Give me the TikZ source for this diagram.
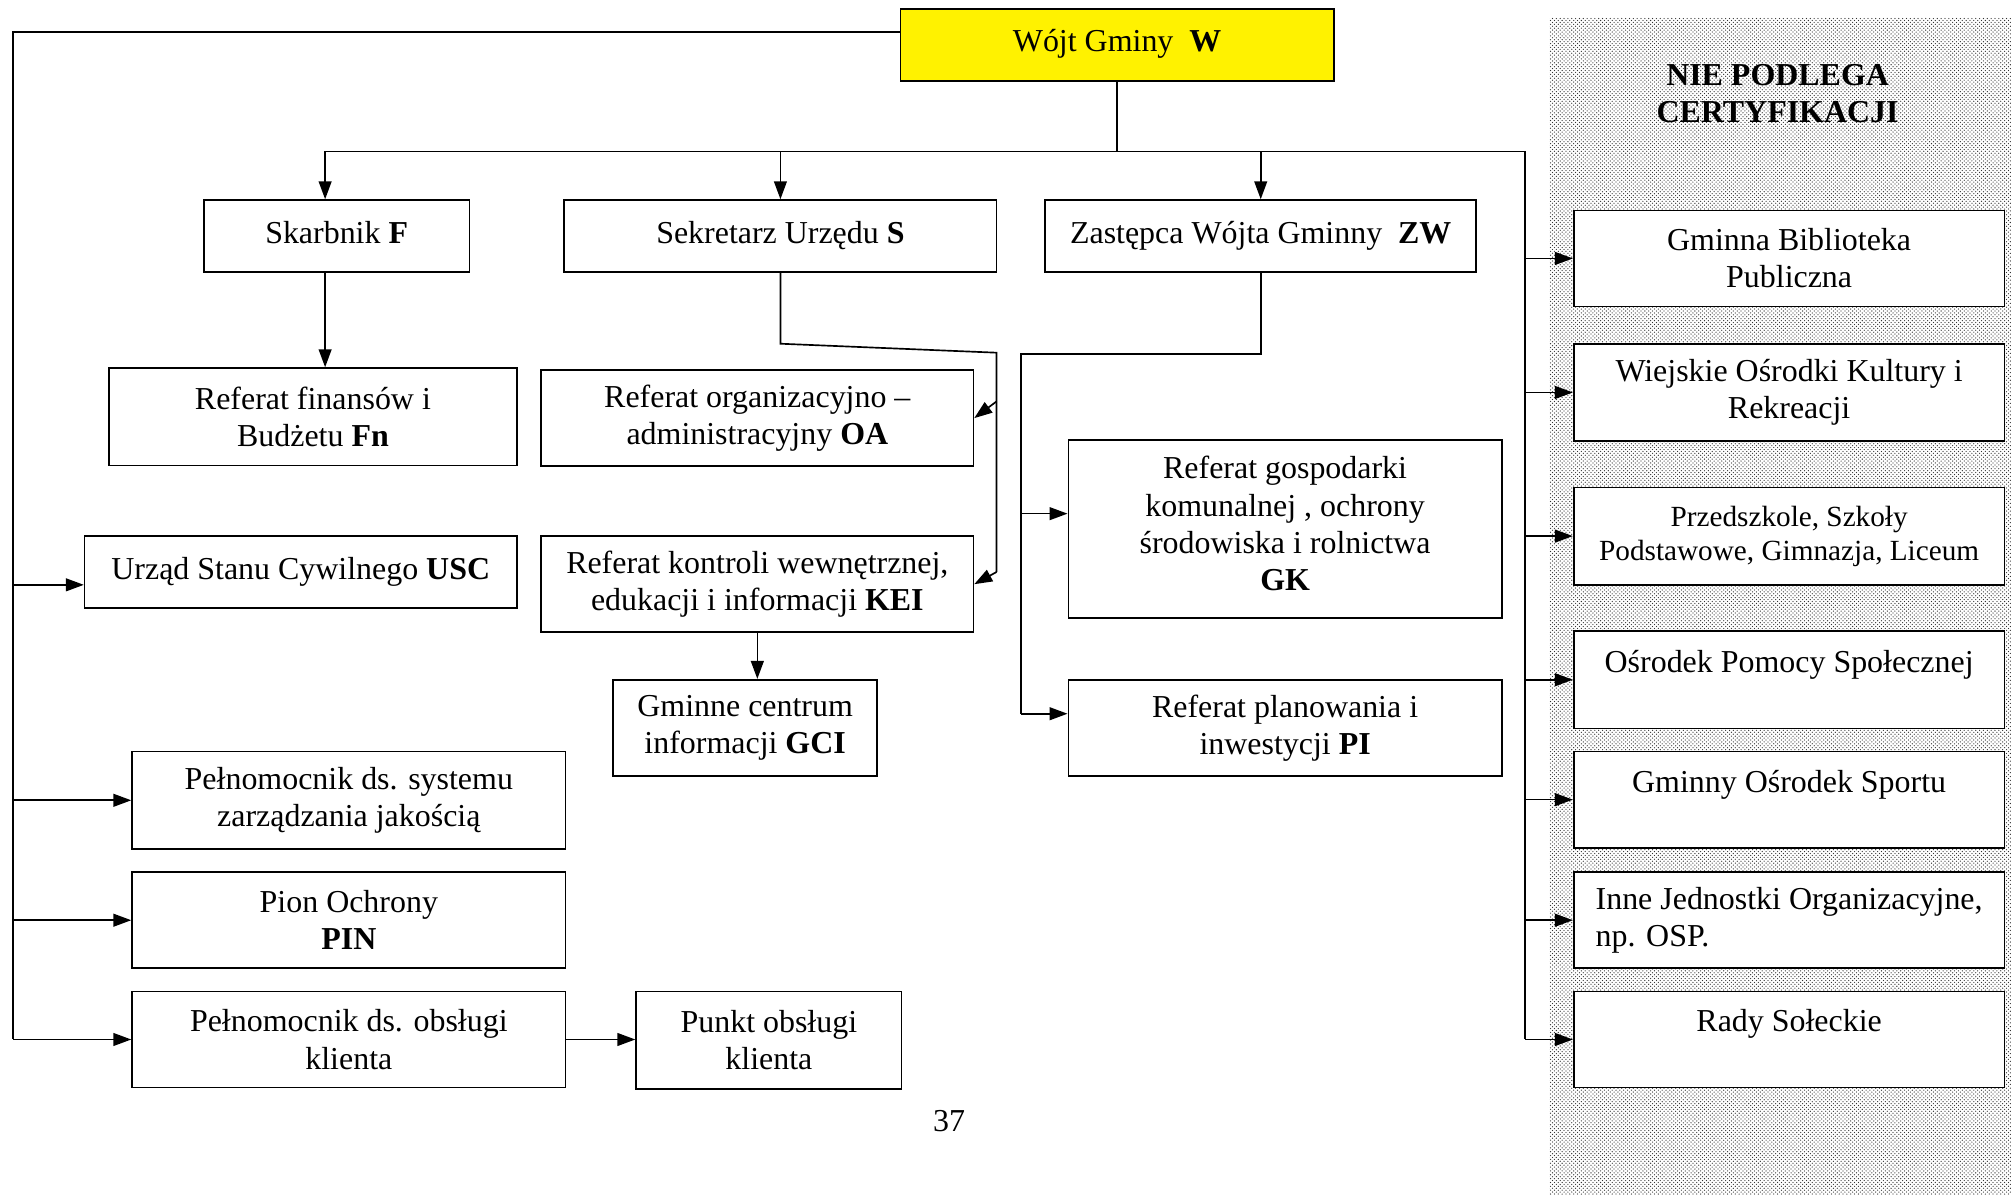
\documentclass[tikz,border=0pt]{standalone}
\usepackage{fontspec}
\setmainfont{Liberation Serif}
\usetikzlibrary{arrows.meta,patterns}
\newcommand{\boxfont}{\fontsize{24.9}{29}\selectfont}
\newcommand{\smallboxfont}{\fontsize{22.8}{26.5}\selectfont}

\begin{document}
\begin{tikzpicture}[x=1pt, y=-1pt, line width=1.3pt, >={Triangle[length=14pt, width=10pt]}]
    \tikzset{dept/.style={draw, fill=white, align=center, inner sep=0pt, font=\boxfont, minimum width=337pt, minimum height=75pt},
             flat/.style={minimum height=56pt, text height=17pt, text depth=6pt},
             unit/.style={dept, minimum width=336pt}}
    \useasboundingbox (0,0) rectangle (1568,931);
    \fill[pattern=crosshatch dots, pattern color=black!80] (1208,14) rectangle (1568,931);
    \node[font=\boxfont\bfseries, align=center] (title) at (1386,73) {NIE PODLEGA\\CERTYFIKACJI};

    \node[dept, flat, minimum width=338pt, fill=yellow] (W) at (871,35) {Wójt Gminy\ \ \textbf{W}};
    \node[dept, flat, minimum width=207pt] (F) at (262.5,184) {Skarbnik \textbf{F}};
    \node[dept, flat] (S) at (608.5,184) {Sekretarz Urzędu \textbf{S}};
    \node[dept, flat, minimum width=336pt] (ZW) at (983,184) {Zastępca Wójta Gminny\ \ \textbf{ZW}};
    \node[dept, minimum width=318pt, minimum height=76pt] (Fn) at (244,325) {Referat finansów i\\Budżetu \textbf{Fn}};
    \node[dept] (OA) at (590.5,326) {Referat organizacyjno –\\administracyjny \textbf{OA}};
    \node[dept, flat] (USC) at (234.5,446) {Urząd Stanu Cywilnego \textbf{USC}};
    \node[dept] (KEI) at (590.5,455.5) {Referat kontroli wewnętrznej,\\edukacji i informacji \textbf{KEI}};
    \node[dept, minimum width=206pt] (GCI) at (581,567.5) {Gminne centrum\\informacji \textbf{GCI}};
    \node[dept, minimum width=338pt, minimum height=139pt] (GK) at (1002,412.5) {Referat gospodarki\\komunalnej , ochrony\\środowiska i rolnictwa\\\textbf{GK}\strut};
    \node[dept, minimum width=338pt] (PI) at (1002,567.5) {Referat planowania i\\inwestycji \textbf{PI}};
    \node[dept, minimum width=338pt, minimum height=76pt] (PSZJ) at (272,624) {Pełnomocnik ds. systemu\\zarządzania jakością};
    \node[dept, minimum width=338pt] (PIN) at (272,717.5) {Pion Ochrony\\\textbf{PIN}};
    \node[dept, minimum width=338pt] (POK) at (272,810.5) {Pełnomocnik ds. obsługi\\klienta};
    \node[dept, minimum width=207pt, minimum height=76pt] (Punkt) at (599.5,811) {Punkt obsługi\\klienta};

    \node[unit] (GBP) at (1395,201.5) {Gminna Biblioteka\\Publiczna};
    \node[unit, minimum height=76pt] (WOK) at (1395,306) {Wiejskie Ośrodki Kultury i\\Rekreacji};
    \node[unit, minimum height=76pt, font=\smallboxfont] (Szk) at (1395,418) {Przedszkole, Szkoły\\Podstawowe, Gimnazja, Liceum};
    \node[unit, minimum height=76pt] (OPS) at (1395,530) {Ośrodek Pomocy Społecznej\\\mbox{}};
    \node[unit] (GOS) at (1395,623.5) {Gminny Ośrodek Sportu\\\mbox{}};
    \node[unit, align=left] (IJO) at (1395,717.5) {Inne Jednostki Organizacyjne,\\np. OSP.};
    \node[unit] (RS) at (1395,810.5) {Rady Sołeckie\\\mbox{}};

    \node[font=\boxfont] (page) at (740,874) {37};

    \coordinate (bar) at (871,118);
    \coordinate (rtop) at (1189,118);
    \coordinate (rbot) at (1189,810);
    \coordinate (lbot) at (10,810);
    \coordinate (wl) at ([yshift=10pt]W.west);
    \coordinate (fdown) at ([xshift=-9pt]F.south);
    \coordinate (uscw) at ([yshift=-10pt]USC.west);
    \coordinate (s1) at (609,268);
    \coordinate (s2) at (777,275);
    \coordinate (s3) at (777,313);
    \coordinate (s4) at (777,446);
    \coordinate (z1) at (796,276);
    \coordinate (gkw) at ([yshift=12pt]GK.west);
    \coordinate (piw) at ([yshift=11pt]PI.west);

    \draw (W.south) -- (bar) -- (rtop) -- (rbot);
    \draw[->] (bar) -| ([xshift=-9pt]F.north);
    \draw[->] (bar -| S.north) -- (S.north);
    \draw[->] (bar -| ZW.north) -- (ZW.north);
    \draw[->] (fdown) -- (fdown |- Fn.north);

    \draw (wl) -| (lbot);
    \draw[->] (lbot |- uscw) -- (uscw);
    \foreach \n in {PSZJ,PIN,POK}
        \draw[->] (lbot |- \n.west) -- (\n.west);
    \draw[->] (POK.east) -- (POK.east -| Punkt.west);

    \draw (S.south) -- (S.south |- s1) -- (s2) -- (s4);
    \draw[->] (s3) -- (OA.east);
    \draw[->] (s4) -- (KEI.east);
    \draw[->] (KEI.south) -- (KEI.south |- GCI.north);

    \draw (ZW.south) |- (z1) -- (z1 |- piw);
    \draw[->] (z1 |- gkw) -- (gkw);
    \draw[->] (z1 |- piw) -- (piw);

    \foreach \n in {GBP,WOK,Szk,OPS,GOS,IJO,RS}
        \draw[->] (rtop |- \n.west) -- (\n.west);
\end{tikzpicture}
\end{document}
